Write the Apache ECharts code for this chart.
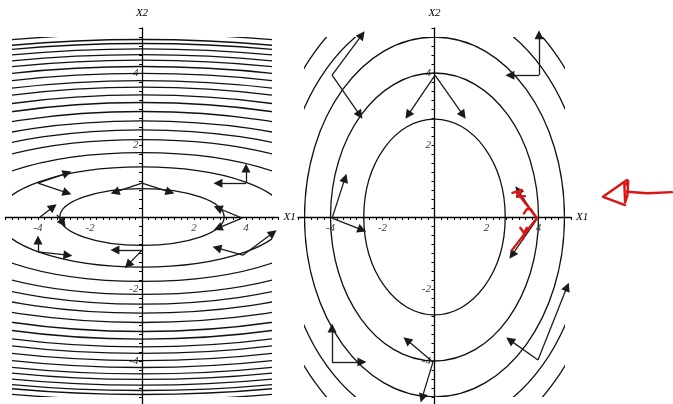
<!DOCTYPE html>
<html>
<head>
<meta charset="utf-8">
<script src="https://cdn.jsdelivr.net/npm/echarts@6/dist/echarts.min.js"></script>
<style>
html, body { margin: 0; padding: 0; background: #fff; }
#chart { width: 673px; height: 404px; }
</style>
</head>
<body>
<div id="chart"></div>
<script>
// level curves, semi-axes [along X1, along X2]
var leftLevels = [
    [3.16, 0.79], [5.56, 1.39], [7.16, 1.79], [8.6, 2.15], [9.68, 2.42],
    [10.68, 2.67], [11.72, 2.93], [12.72, 3.18], [13.56, 3.39], [14.44, 3.61],
    [15.16, 3.79], [15.96, 3.99], [16.72, 4.18], [17.44, 4.36], [18.04, 4.51],
    [18.68, 4.67], [19.28, 4.82], [19.72, 4.93], [20.32, 5.08]
];
var rightLevels = [[2.72, 2.72], [4.0, 4.0], [5.0, 5.0], [5.85, 5.85], [6.5, 6.5]];

// arrows: [tail, head]
var leftArrows = [
    [[-4.0, 0.94], [-2.88, 1.22]],
    [[-4.0, 0.94], [-2.88, 0.67]],
    [[0, 0.94], [-1.04, 0.69]],
    [[0, 0.94], [1.08, 0.69]],
    [[4.0, 0.94], [4.0, 1.36]],
    [[4.0, 0.94], [2.92, 0.94]],
    [[-3.92, 0], [-3.42, 0.28]],
    [[-3.27, 0.06], [-3.04, -0.17]],
    [[3.85, -0.03], [2.92, 0.25]],
    [[3.85, -0.03], [2.92, -0.31]],
    [[-4.0, -0.97], [-4.0, -0.64]],
    [[-4.0, -0.97], [-2.85, -1.06]],
    [[0, -0.92], [-1.04, -0.92]],
    [[0, -0.92], [-0.54, -1.33]],
    [[3.88, -1.06], [2.88, -0.86]],
    [[3.88, -1.06], [5.04, -0.44]]
];
var rightArrows = [
    [[-3.94, 3.94], [-2.79, 5.06]],
    [[-3.94, 3.94], [-2.87, 2.83]],
    [[0.02, 3.94], [-1.02, 2.83]],
    [[0.02, 3.94], [1.1, 2.83]],
    [[4.02, 3.94], [4.02, 5.06]],
    [[4.02, 3.94], [2.9, 3.94]],
    [[-3.94, -0.03], [-3.44, 1.08]],
    [[-3.94, -0.03], [-2.79, -0.36]],
    [[3.94, -0.06], [3.21, 0.75]],
    [[3.94, -0.06], [2.98, -1.06]],
    [[-3.94, -4.03], [-3.94, -3.08]],
    [[-3.94, -4.03], [-2.79, -4.03]],
    [[-0.06, -4.03], [-1.06, -3.42]],
    [[-0.06, -4.03], [-0.48, -5.03]],
    [[3.98, -3.97], [2.9, -3.42]],
    [[3.98, -3.97], [5.1, -1.94]]
];

// hand-drawn red marks on the right plot
var redStrokes = [
    [[9.13, 0.69], [8.2, 0.66], [7.4, 0.7]],
    [[7.4, 1.03], [6.48, 0.56], [7.33, 0.33]],
    [[7.3, 0.95], [7.33, 0.4], [7.42, 0.6], [7.45, 1.0], [7.38, 0.9]],
    [[3.94, -0.03], [3.17, 0.69]],
    [[3.0, 0.67], [3.36, 0.75], [3.17, 0.56], [3.48, 0.58]],
    [[3.44, 0.1], [3.55, 0.22], [3.7, 0.22], [3.8, 0.1]],
    [[3.94, -0.03], [2.98, -0.92]],
    [[3.3, -0.3], [3.45, -0.45], [3.55, -0.3]],
    [[3.45, -0.45], [3.4, -0.62]]
];

// tick labels shown on both axes
var tickValues = [-4, -2, 2, 4];
var serif = { fontFamily: 'Liberation Serif', fontStyle: 'italic', fontSize: 11, color: '#000' };

function shownAxis(gi, name, isY) {
    return {
        type: 'value', gridIndex: gi, min: -5.25, max: 5.25, interval: 0.25,
        name: name, nameLocation: 'end', nameGap: isY ? 9 : 5,
        nameTextStyle: serif,
        axisLine: { onZero: true, lineStyle: { color: '#000', width: 1.3 } },
        axisTick: { length: 3, lineStyle: { color: '#000', width: 1 } },
        axisLabel: { show: false },
        splitLine: { show: false }
    };
}

function hiddenAxis(gi) {
    return { type: 'value', gridIndex: gi, min: -5, max: 5, show: false };
}

function drawLevel(params, api) {
    var c = api.coord([0, 0]);
    var s = api.size([api.value(0), api.value(1)]);
    return {
        type: 'ellipse',
        shape: { cx: c[0], cy: c[1], rx: s[0], ry: s[1] },
        style: { fill: 'none', stroke: '#111', lineWidth: 1.3 }
    };
}

function arrowData(list) {
    return list.map(function (a) { return { coords: a }; });
}

// tick labels sit next to the axis lines through the origin
function tickLabels(gi, isY) {
    return {
        type: 'scatter', xAxisIndex: gi, yAxisIndex: gi, silent: true,
        symbolSize: 1, itemStyle: { color: 'rgba(0,0,0,0)' },
        label: Object.assign({
            show: true,
            position: isY ? 'left' : 'bottom',
            distance: isY ? 3 : 5,
            formatter: function (p) { return String(p.value[isY ? 1 : 0]); }
        }, serif),
        data: tickValues.map(function (v) { return isY ? [0, v] : [v, 0]; })
    };
}

var myChart = echarts.init(document.getElementById('chart'));

var option = {
    animation: false,
    backgroundColor: '#fff',
    grid: [
        { left: 5.5, top: 28, width: 273, height: 378, outerBoundsMode: 'none' },
        { left: 12, top: 37, width: 260, height: 360, outerBoundsMode: 'none' },
        { left: 298, top: 28, width: 273, height: 378, outerBoundsMode: 'none' },
        { left: 304.5, top: 37, width: 260, height: 360, outerBoundsMode: 'none' }
    ],
    xAxis: [shownAxis(0, 'X1', false), hiddenAxis(1), shownAxis(2, 'X1', false), hiddenAxis(3)],
    yAxis: [shownAxis(0, 'X2', true), hiddenAxis(1), shownAxis(2, 'X2', true), hiddenAxis(3)],
    series: [
        {
            type: 'custom', xAxisIndex: 1, yAxisIndex: 1, clip: true, silent: true,
            renderItem: drawLevel, data: leftLevels
        },
        {
            type: 'custom', xAxisIndex: 3, yAxisIndex: 3, clip: true, silent: true,
            renderItem: drawLevel, data: rightLevels
        },
        {
            type: 'lines', coordinateSystem: 'cartesian2d', xAxisIndex: 0, yAxisIndex: 0,
            symbol: ['none', 'triangle'], symbolSize: 9, silent: true, clip: false,
            lineStyle: { color: '#1a1a1a', width: 1.3, opacity: 1, curveness: 0 },
            data: arrowData(leftArrows)
        },
        {
            type: 'lines', coordinateSystem: 'cartesian2d', xAxisIndex: 2, yAxisIndex: 2,
            symbol: ['none', 'triangle'], symbolSize: 9, silent: true, clip: false,
            lineStyle: { color: '#1a1a1a', width: 1.3, opacity: 1, curveness: 0 },
            data: arrowData(rightArrows)
        },
        {
            type: 'lines', coordinateSystem: 'cartesian2d', xAxisIndex: 2, yAxisIndex: 2,
            polyline: true, symbol: 'none', silent: true, clip: false,
            lineStyle: { color: '#d81414', width: 2.4, opacity: 1, cap: 'round', join: 'round' },
            data: arrowData(redStrokes)
        },
        tickLabels(0, false),
        tickLabels(0, true),
        tickLabels(2, false),
        tickLabels(2, true)
    ]
};
myChart.setOption(option);
</script>
</body>
</html>
